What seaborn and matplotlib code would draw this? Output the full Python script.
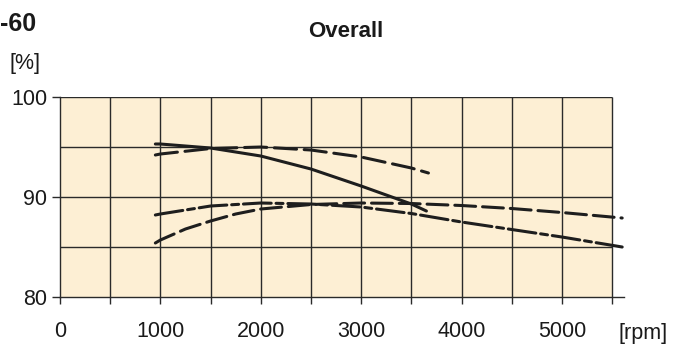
import numpy as np
import pandas as pd
import matplotlib
matplotlib.use("Agg")
import matplotlib.pyplot as plt
import seaborn as sns
from matplotlib.patches import Rectangle

sns.set_theme(style="white")
plt.rcParams["font.family"] = ["Liberation Sans", "DejaVu Sans"]
plt.rcParams["lines.scale_dashes"] = False

# efficiency curves (rpm, %)
rpm_a = [950, 1000, 1500, 2000, 2500, 3000, 3500, 3650]
eff_a = [95.3, 95.3, 94.9, 94.1, 92.8, 91.1, 89.3, 88.6]

rpm_b = [950, 1000, 1500, 2000, 2500, 3000, 3500, 3670]
eff_b = [94.2, 94.3, 94.85, 95.0, 94.7, 94.0, 92.9, 92.4]

rpm_c = [950, 1000, 1250, 1500, 1750, 2000, 2500, 3000, 3500, 4000, 4500, 5000, 5600]
eff_c = [85.4, 85.7, 86.8, 87.6, 88.3, 88.8, 89.25, 89.4, 89.35, 89.15, 88.85, 88.45, 87.9]

rpm_d = [950, 1000, 1500, 2000, 2500, 3000, 3500, 4000, 4500, 5000, 5600]
eff_d = [88.2, 88.3, 89.1, 89.4, 89.3, 89.0, 88.35, 87.5, 86.75, 86.0, 85.0]

x_ticks = [0, 1000, 2000, 3000, 4000, 5000]
y_ticks = [80, 90, 100]

fig = plt.figure(figsize=(6.77, 3.44), dpi=100)
ax = fig.add_axes([0.0886, 0.1366, 0.8334, 0.5814])

line_col = "#1e1e1e"
grid_col = "#2a2a2a"
text_col = "#1a1a1a"

# background panel and grid
ax.add_patch(Rectangle((0, 80), 5500, 20, facecolor="#fdefd4", edgecolor="none", zorder=0))
ax.vlines(np.arange(500, 5501, 500), 80, 100, color=grid_col, lw=1.0, zorder=1)
ax.hlines([85, 90, 95, 100], 0, 5500, color=grid_col, lw=1.0, zorder=1)

styles = [
    (rpm_a, eff_a, "-"),
    (rpm_b, eff_b, (0, (16, 5.5))),
    (rpm_c, eff_c, (0, (15, 5))),
    (rpm_d, eff_d, (0, (20, 3.5, 5, 3.5))),
]
for xs, ys, ls in styles:
    df = pd.DataFrame({"rpm": xs, "eff": ys})
    sns.lineplot(data=df, x="rpm", y="eff", ax=ax, color=line_col, lw=2.2,
                 linestyle=ls, zorder=3, solid_capstyle="round", dash_capstyle="round")

ax.set_xlim(0, 5620)
ax.set_ylim(80, 100)
ax.set_xticks(x_ticks)
ax.set_xticks(np.arange(500, 5501, 1000), minor=True)
ax.set_yticks(y_ticks)
ax.set_xticklabels([str(v) for v in x_ticks], fontsize=15.5, color=text_col)
ax.set_yticklabels([str(v) for v in y_ticks], fontsize=15.5, color=text_col)
ax.set_xlabel("")
ax.set_ylabel("")

for s in ["top", "right"]:
    ax.spines[s].set_visible(False)
for s in ["left", "bottom"]:
    ax.spines[s].set_color(grid_col)
    ax.spines[s].set_linewidth(1.0)
    ax.spines[s].set_zorder(2)

ax.tick_params(axis="x", which="both", direction="out", length=5, width=1.0,
               color=grid_col, pad=12, bottom=True)
ax.tick_params(axis="y", which="both", direction="out", length=6, width=1.0,
               color=grid_col, pad=3, left=True)

fig.text(0.0, 0.93, "-60", fontsize=18, fontweight="bold", ha="left", va="center", color=text_col)
fig.text(0.511, 0.907, "Overall", fontsize=16, fontweight="bold", ha="center", va="center", color=text_col)
fig.text(0.014, 0.815, "[%]", fontsize=15.5, ha="left", va="center", color=text_col)
fig.text(0.914, 0.030, "[rpm]", fontsize=15.5, ha="left", va="center", color=text_col)

fig.savefig("out.png", dpi=100)
